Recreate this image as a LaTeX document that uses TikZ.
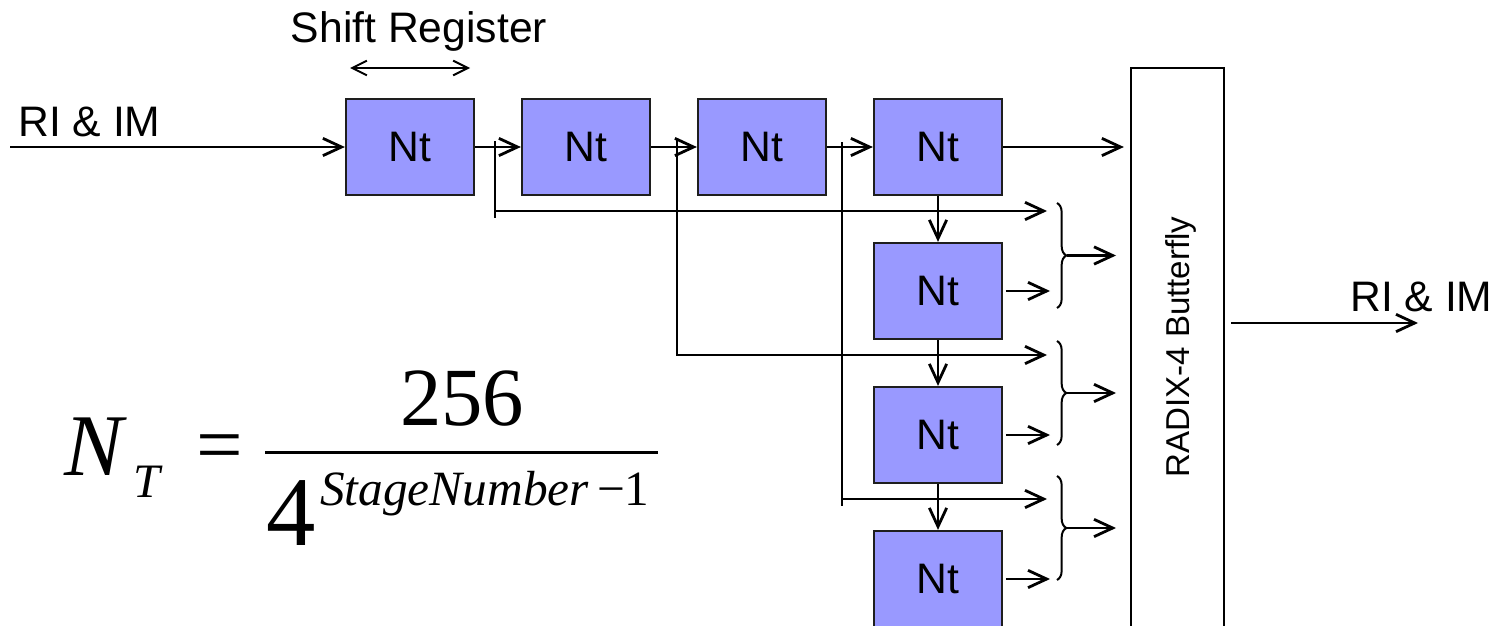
\documentclass[tikz,border=0pt]{standalone}
\usepackage{fontspec}
\setmainfont{Liberation Sans}
\newfontfamily\timesfont{Liberation Serif}
\usetikzlibrary{arrows.meta,decorations.pathreplacing}

\begin{document}
\begin{tikzpicture}[x=0.75pt,y=0.75pt,yscale=-1,xscale=1,
	wire/.style={line width=2.1pt},
	thinwire/.style={line width=1.5pt},
	arr/.style={-{Straight Barb[length=14pt,width=13pt]}},
	darr/.style={{Straight Barb[length=11pt,width=11pt]}-{Straight Barb[length=11pt,width=11pt]}},
	ntbox/.style={draw={rgb, 255:red, 30; green, 30; blue, 30}, fill={rgb, 255:red, 153; green, 153; blue, 255}, line width=1.7pt, minimum width=96pt, minimum height=72pt, inner sep=0pt, font=\fontsize{32}{38}\selectfont},
	sig/.style={inner sep=0pt, font=\fontsize{32}{38}\selectfont},
	eqn/.style={inner sep=0pt, font=\timesfont\fontsize{62}{70}\selectfont},
	grp/.style={thinwire, decorate, decoration={brace, amplitude=7pt}}]
	\clip (0,0) rectangle (1498,625);

	\node[sig, anchor=base] (srname) at (419,42) {Shift Register};
	\coordinate (srL) at (350,68);
	\coordinate (srR) at (470,68);
	\draw[thinwire, darr] (srL) -- (srR);

	\node[sig, anchor=base west] (inname) at (18,136) {RI \& IM};
	\coordinate (inlet) at (10,147);

	\node[ntbox] (sr1) at (410,147) {Nt};
	\node[ntbox] (sr2) at (586,147) {Nt};
	\node[ntbox] (sr3) at (762,147) {Nt};
	\node[ntbox] (sr4) at (938,147) {Nt};
	\node[ntbox] (col1) at (938,291) {Nt};
	\node[ntbox] (col2) at (938,435) {Nt};
	\node[ntbox] (col3) at (938,579) {Nt};

	\node[draw, line width=1.7pt, minimum width=69.75pt, minimum height=445pt, inner sep=0pt, anchor=north] (radix) at (1177.5,67) {};
	\node[rotate=90, inner sep=0pt, font=\fontsize{24.8}{28}\selectfont] (radixname) at (1181,347) {RADIX-4 Butterfly};

	\draw[wire, arr] (inlet) -- (sr1);
	\draw[wire, arr] (sr1) -- (sr2);
	\draw[wire, arr] (sr2) -- (sr3);
	\draw[wire, arr] (sr3) -- (sr4);
	\draw[wire, arr, shorten >=4.5pt] (sr4) -- (sr4 -| radix.west);
	\draw[wire, arr] (sr4) -- (col1);
	\draw[wire, arr] (col1) -- (col2);
	\draw[wire, arr] (col2) -- (col3);

	% taps off the shift register into the butterfly inputs
	\coordinate (tapA) at (495,141);
	\coordinate (tapB) at (677,138);
	\coordinate (tapC) at (842,142);
	\coordinate (inA) at (1047,211);
	\coordinate (inB) at (1047,355);
	\coordinate (inC) at (1047,499);
	\draw[wire] (tapA) -- ++(0,77);
	\draw[wire, arr] (tapA |- inA) -- (inA);
	\draw[wire, arr] (tapB) |- (inB);
	\draw[wire] (tapC) -- ++(0,364);
	\draw[wire, arr] (tapC |- inC) -- (inC);

	\foreach \i in {1,2,3} {
		\coordinate (cout\i) at (1050,147+144*\i);
		\draw[wire, arr] ([xshift=2pt]col\i.east) -- (cout\i);
	}

	\foreach \i/\top/\bot in {1/203/308, 2/341/445, 3/476/580} {
		\draw[grp] (1057,\top) -- (1057,\bot);
		\coordinate (mix\i) at (1067,{(\top+\bot)/2});
		\coordinate (bfin\i) at (1116,{(\top+\bot)/2});
		\draw[wire, arr] (mix\i) -- (bfin\i);
	}

	\coordinate (dout) at (1418,323);
	\draw[wire, arr, shorten <=4.5pt] (radix.east |- dout) -- (dout);
	\node[sig, anchor=base west] (outname) at (1350,311) {RI \& IM};

	% N_T = 256 / 4^(StageNumber-1)
	\node[eqn, anchor=base west, font=\timesfont\itshape\fontsize{66}{72}\selectfont] (ntsym) at (64,475) {N};
	\node[eqn, anchor=base west, font=\timesfont\itshape\fontsize{36}{40}\selectfont] (ntsub) at (133,497) {T};
	\node[eqn] (eqsign) at (220,454) {=};
	\coordinate (fracL) at (265,452);
	\coordinate (fracR) at (658,452);
	\draw[line width=2.25pt] (fracL) -- (fracR);
	\node[eqn, anchor=base] (numer) at (462,425) {256};
	\node[eqn, anchor=base west, font=\timesfont\fontsize{74}{80}\selectfont] (four) at (266,545) {4};
	\node[eqn, anchor=base west, font=\timesfont\fontsize{37}{42}\selectfont] (expo) at (320,505) {\itshape StageNumber\upshape\,−1};
\end{tikzpicture}
\end{document}
